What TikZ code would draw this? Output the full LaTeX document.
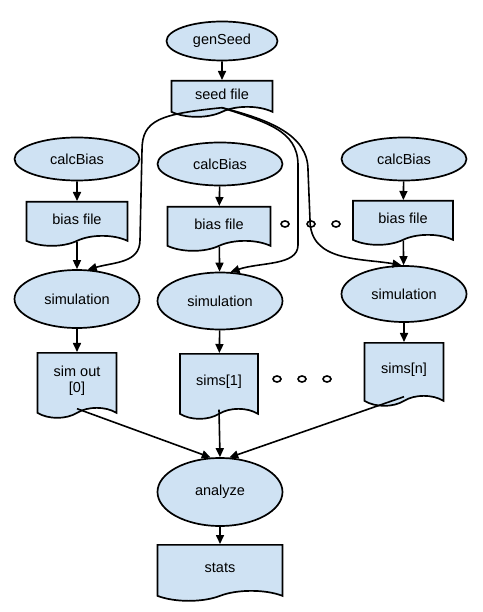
\documentclass[tikz,border=0pt]{standalone}
\usepackage{fontspec}
\setmainfont{Liberation Sans}
\usepackage{tikz}
\usetikzlibrary{shapes.geometric, shapes.symbols, arrows.meta}
\definecolor{boxblue}{RGB}{207, 226, 243}

\begin{document}
\begin{tikzpicture}[
    x=1pt, y=-1pt,
    font=\fontsize{14.5}{16}\selectfont,
    proc/.style={ellipse, draw=black, fill=boxblue, line width=1.7pt,
                 minimum width=125pt, minimum height=#1, inner sep=0pt},
    proc/.default=43pt,
    doc/.style={tape, tape bend top=none, tape bend bottom=in and out,
                tape bend height=10pt, draw=black, fill=boxblue, line width=1.7pt,
                anchor=north, align=center, inner sep=0pt},
    dotmark/.style={ellipse, draw=black, fill=white, line width=1.6pt,
                    minimum width=8pt, minimum height=6pt, inner sep=0pt},
    flow/.style={-{Triangle[length=9pt, width=8pt]}, line width=1.6pt}
]
    \useasboundingbox (0,0) rectangle (482,612);

    % seed
    \node[proc=39pt, minimum width=111pt] (genSeed) at (222, 41) {genSeed};
    \node[doc, minimum width=101pt, minimum height=36pt] (seed) at (222, 80) {seed file};

    % bias columns
    \node[proc] (calcL) at (77, 159) {calcBias};
    \node[proc] (calcM) at (220, 164) {calcBias};
    \node[proc] (calcR) at (404, 159) {calcBias};

    \node[doc, minimum width=101pt, minimum height=44pt] (biasL) at (77, 201) {bias file};
    \node[doc, minimum width=103pt, minimum height=44pt] (biasM) at (219, 206) {bias file};
    \node[doc, minimum width=100pt, minimum height=44pt] (biasR) at (403, 200) {bias file};

    \node[proc=58pt] (simL) at (77, 299) {simulation};
    \node[proc=57pt] (simM) at (220, 301) {simulation};
    \node[proc=56pt] (simR) at (404, 294) {simulation};

    \node[doc, minimum width=79pt, minimum height=65pt] (outL) at (77, 352) {sim out\\{}[0]};
    \node[doc, minimum width=78pt, minimum height=65pt] (outM) at (219, 353) {sims[1]};
    \node[doc, minimum width=79pt, minimum height=63pt] (outR) at (404, 342) {sims[n]};

    % dots
    \node[dotmark] (d1) at (285, 224) {};
    \node[dotmark] (d2) at (311, 224) {};
    \node[dotmark] (d3) at (336, 224) {};
    \node[dotmark] (d4) at (277, 379) {};
    \node[dotmark] (d5) at (302, 379) {};
    \node[dotmark] (d6) at (327, 379) {};

    % results
    \node[proc=68pt] (analyze) at (220, 492) {analyze};
    \node[doc, minimum width=125pt, minimum height=56pt] (stats) at (220, 544) {stats};

    % Arrows
    \draw[flow] (genSeed) -- (seed);
    \draw[flow] (calcL) -- (biasL);
    \draw[flow] (calcM) -- (biasM);
    \draw[flow] (calcR) -- (biasR);
    \draw[flow] (biasL) -- (simL);
    \draw[flow] (biasM) -- (simM);
    \draw[flow] (biasR) -- (simR);
    \draw[flow] (simL) -- (outL);
    \draw[flow] (simM) -- (outM);
    \draw[flow] (simR) -- (outR);
    \draw[flow] (outL.south) -- (analyze.105);
    \draw[flow] (outM.south) -- (analyze.north);
    \draw[flow] (outR.south) -- (analyze.75);
    \draw[flow] (analyze) -- (stats);

    % seed file to each simulation
    \draw[flow] (seed.south) .. controls (160,114) and (142,120) .. (142,150)
        -- (140,240) .. controls (140,263) and (115,262) .. (simL.70);
    \draw[flow] (seed.south) .. controls (265,122) and (298,130) .. (298,165)
        -- (298,245) .. controls (298,266) and (260,262) .. (simM.70);
    \draw[flow] (seed.south) .. controls (270,120) and (308,135) .. (308,170)
        -- (310,220) .. controls (310,262) and (360,258) .. (simR.95);
\end{tikzpicture}
\end{document}
